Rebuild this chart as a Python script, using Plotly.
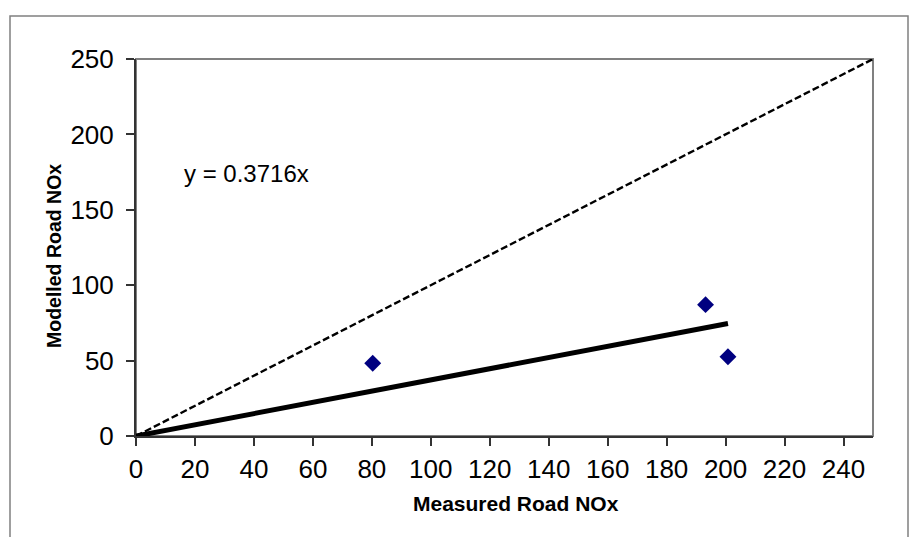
import plotly.graph_objects as go

# Data
measured_nox = [80.3, 193.2, 200.8]
modelled_nox = [48.2, 87.1, 52.6]
fit_slope = 0.3716
one_to_one = [0, 250]
x_tick_vals = list(range(0, 241, 20))
y_tick_vals = list(range(0, 251, 50))

FONT = "Arial, Liberation Sans, sans-serif"

fit_x = [0, max(measured_nox)]
fit_y = [fit_slope * v for v in fit_x]

fig = go.Figure()
fig.add_trace(go.Scatter(x=one_to_one, y=one_to_one, mode="lines",
                         line=dict(color="black", width=2.4, dash="7px,3px"),
                         showlegend=False, hoverinfo="skip"))
fig.add_trace(go.Scatter(x=fit_x, y=fit_y, mode="lines",
                         line=dict(color="black", width=5),
                         showlegend=False, hoverinfo="skip"))
fig.add_trace(go.Scatter(x=measured_nox, y=modelled_nox, mode="markers",
                         marker=dict(symbol="diamond", size=13, color="#000080",
                                     line=dict(width=0)),
                         showlegend=False))

W, H = 909, 537
L, R, T, B = 136, 36, 59, 101
pw, ph = W - L - R, H - T - B

def px_to_paper_x(px):
    return (px - L) / pw

def px_to_paper_y(py):
    return (H - B - py) / ph

# outer chart border
fig.add_shape(type="rect", xref="paper", yref="paper",
              x0=px_to_paper_x(10), x1=px_to_paper_x(908),
              y0=px_to_paper_y(545), y1=px_to_paper_y(16),
              line=dict(color="#808080", width=1.5), layer="below")
# plot area border
fig.add_shape(type="rect", xref="paper", yref="paper",
              x0=0, x1=1, y0=0, y1=1,
              line=dict(color="#808080", width=2), layer="below")

fig.add_annotation(x=15.6, y=174.4, xref="x", yref="y",
                   text="y = 0.3716x", showarrow=False,
                   xanchor="left", yanchor="middle",
                   font=dict(family=FONT, size=24, color="black"))

# axis titles
fig.add_annotation(x=px_to_paper_x(516), y=px_to_paper_y(503), xref="paper", yref="paper",
                   text="<b>Measured Road NOx</b>", showarrow=False,
                   xanchor="center", yanchor="middle",
                   font=dict(family=FONT, size=21, color="black"))
fig.add_annotation(x=px_to_paper_x(54), y=px_to_paper_y(256), xref="paper", yref="paper",
                   text="<b>Modelled Road NOx</b>", showarrow=False, textangle=-90,
                   xanchor="center", yanchor="middle",
                   font=dict(family=FONT, size=19.5, color="black"))

fig.update_layout(
    width=W, height=H,
    margin=dict(l=L, r=R, t=T, b=B),
    paper_bgcolor="white", plot_bgcolor="white",
    font=dict(family=FONT, color="black"),
)
fig.update_xaxes(range=[0, 250], tickvals=x_tick_vals, showgrid=False, zeroline=False,
                 showline=True, linecolor="#333333", linewidth=2,
                 ticks="outside", ticklen=8, tickcolor="#333333", tickwidth=1.5,
                 tickfont=dict(family=FONT, size=26, color="black"),
                 ticklabelstandoff=1)
fig.update_yaxes(range=[0, 250], tickvals=y_tick_vals, showgrid=False, zeroline=False,
                 showline=True, linecolor="#333333", linewidth=2,
                 ticks="outside", ticklen=8, tickcolor="#333333", tickwidth=1.5,
                 tickfont=dict(family=FONT, size=26, color="black"),
                 ticklabelstandoff=7)

fig.write_html("out.html", config={"displayModeBar": False},
               post_script="document.body.style.margin='0';document.body.style.overflow='hidden';")
